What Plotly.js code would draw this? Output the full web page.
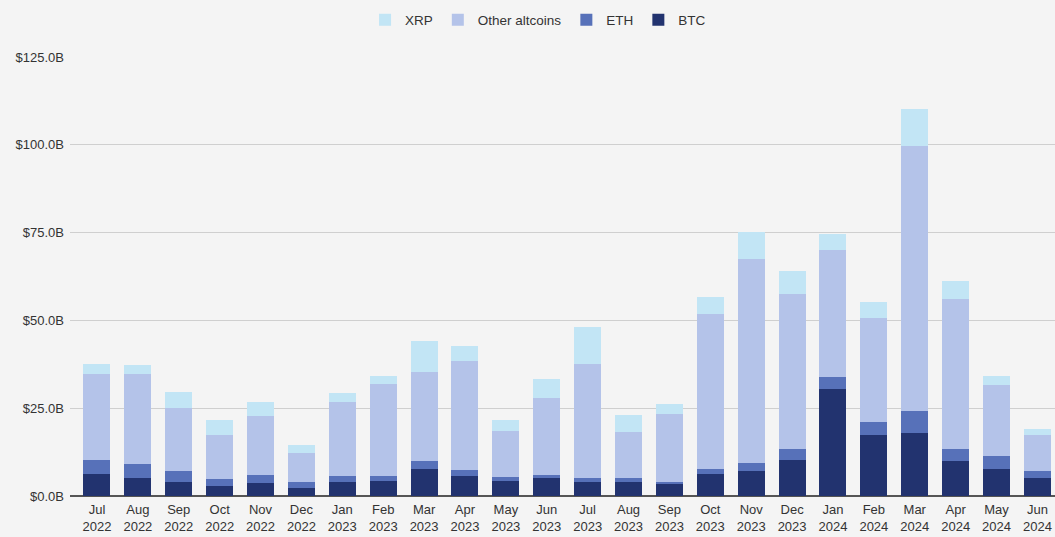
<!DOCTYPE html>
<html>
<head>
<meta charset="utf-8">
<script src="https://cdn.plot.ly/plotly-3.0.1.min.js"></script>
<style>html,body{margin:0;padding:0;background:#f4f4f4;}#chart{width:1055px;height:537px;}</style>
</head>
<body>
<div id="chart"></div>
<script>
const months = ["Jul<br>2022","Aug<br>2022","Sep<br>2022","Oct<br>2022","Nov<br>2022","Dec<br>2022",
  "Jan<br>2023","Feb<br>2023","Mar<br>2023","Apr<br>2023","May<br>2023","Jun<br>2023",
  "Jul<br>2023","Aug<br>2023","Sep<br>2023","Oct<br>2023","Nov<br>2023","Dec<br>2023",
  "Jan<br>2024","Feb<br>2024","Mar<br>2024","Apr<br>2024","May<br>2024","Jun<br>2024"];
const btc = [6.3,5.1,3.9,2.8,3.6,2.4,3.9,4.4,7.7,5.6,4.4,5.0,3.9,3.9,3.3,6.4,7.1,10.2,30.6,17.5,18.0,10.0,7.8,5.2];
const eth = [3.9,4.1,3.2,1.9,2.4,1.5,1.8,1.3,2.4,1.9,0.9,1.1,1.2,1.2,0.7,1.2,2.4,3.1,3.4,3.5,6.2,3.3,3.7,1.9];
const otherAlts = [24.6,25.6,18.0,12.8,16.9,8.4,21.0,26.2,25.2,30.9,13.1,21.9,32.6,13.2,19.3,44.2,58.1,44.1,36.0,29.8,75.5,42.9,20.0,10.4];
const xrp = [2.9,2.5,4.6,4.0,3.8,2.3,2.7,2.2,8.8,4.3,3.3,5.4,10.5,4.8,2.8,5.0,7.6,6.7,4.7,4.4,10.6,4.9,2.8,1.6];
const yTicks = [0,25,50,75,100,125];
const yTickLabels = ["$0.0B","$25.0B","$50.0B","$75.0B","$100.0B","$125.0B"];

const idx = months.map((_, i) => i);
function tr(name, vals, color) {
  return {type:'bar', name:name, x:idx, y:vals, marker:{color:color, line:{width:0}},
    hovertemplate:'%{y:.1f}B<extra>'+name+'</extra>'};
}
const data = [
  tr('BTC', btc, '#22336f'),
  tr('ETH', eth, '#5771b9'),
  tr('Other altcoins', otherAlts, '#b4c3e9'),
  tr('XRP', xrp, '#c2e5f5')
];
const layout = {
  width:1055, height:537,
  barmode:'stack', bargap:0.34,
  paper_bgcolor:'#f4f4f4', plot_bgcolor:'#f4f4f4',
  font:{family:'Liberation Sans, Arial, sans-serif', size:13, color:'#333'},
  margin:{l:70, r:0, t:57, b:41},
  showlegend:true,
  legend:{orientation:'h', traceorder:'reversed', xref:'container', yref:'container',
    x:0.51, xanchor:'center', y:0.963, yanchor:'middle', font:{size:13.5, color:'#333'},
    itemwidth:30, bgcolor:'rgba(0,0,0,0)'},
  xaxis:{tickmode:'array', tickvals:idx, ticktext:months, range:[-0.66,23.43],
    showgrid:false, zeroline:false, showline:false, ticks:'', ticklabelstandoff:4,
    tickfont:{size:13, color:'#333'}},
  yaxis:{range:[0,125], tickmode:'array', tickvals:yTicks, ticktext:yTickLabels,
    showgrid:true, gridcolor:'#cfcfcf', gridwidth:1, zeroline:true, zerolinecolor:'#555', zerolinewidth:1.5,
    ticks:'', ticklabelstandoff:5, tickfont:{size:13, color:'#333'}}
};
Plotly.newPlot('chart', data, layout, {displayModeBar:false, staticPlot:true});
</script>
</body>
</html>
